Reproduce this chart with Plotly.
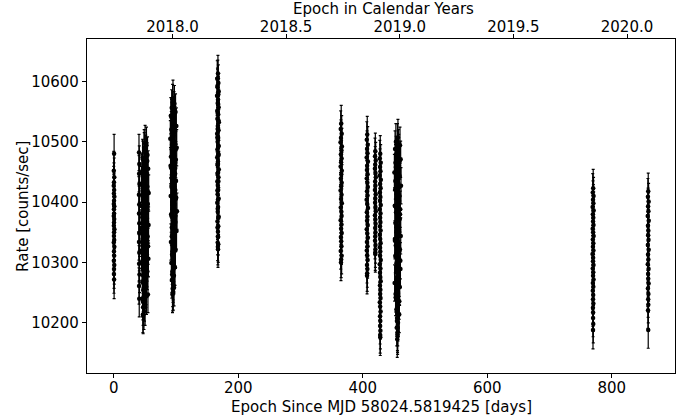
import datetime
import plotly.graph_objects as go

# Light-curve rates, grouped by observing window (days since reference MJD)
MJD_REF = 58024.5819425

a_day = [0.62, 0.15, 0.88, 0.41, 0.05, 0.73, 0.29, 1.02, 0.55, 0.18, 0.94, 0.36, 0.67, 0.09, 0.81,
         0.47, 0.24, 1.10, 0.58, 0.33, 0.76, 0.12, 0.99, 0.44, 0.69, 0.21, 0.85, 0.52, 0.38, 0.64]
a_rate = [10480, 10452, 10441, 10433, 10427, 10420, 10414, 10409, 10402, 10397, 10393, 10388, 10381,
          10377, 10372, 10366, 10361, 10355, 10350, 10344, 10337, 10333, 10326, 10318, 10311, 10303,
          10296, 10289, 10281, 10272]

b_day = [40.6, 41.1, 40.8, 41.3, 40.5, 41.0, 40.7, 41.2, 40.9, 40.6, 41.1, 40.8, 41.4, 40.7, 41.0,
         50.4, 52.6, 49.0, 54.3, 46.8, 51.9, 49.5, 55.4, 45.3, 53.2, 48.1, 50.9, 44.5, 53.0, 48.4,
         56.2, 46.2, 51.3, 50.0, 54.8, 45.1, 53.7, 47.4, 50.2, 45.9, 52.3, 48.7, 56.0, 44.0, 51.6,
         49.2, 54.5, 46.5, 53.4, 47.8, 50.7, 44.8, 52.8, 48.2, 55.7, 45.6, 52.1, 49.8, 54.0, 47.1,
         51.1, 46.1, 52.2, 47.6, 55.0, 46.4, 49.4, 47.2, 48.6, 46.9, 47.3,
         48.9, 51.4, 46.3, 53.9, 49.7, 45.7, 52.5, 47.9, 50.5, 54.6, 46.6, 51.8, 49.1, 53.3, 47.5,
         50.8, 45.2, 52.0, 48.5, 55.2, 46.0, 50.1, 53.5, 47.0, 49.6, 51.3, 48.3, 52.7, 46.8, 50.4]
b_rate = [10482, 10463, 10447, 10430, 10412, 10396, 10381, 10365, 10349, 10334, 10316, 10298, 10280,
          10261, 10240,
          10497, 10494, 10485, 10478, 10471, 10466, 10460, 10455, 10449, 10444, 10440, 10434, 10429,
          10425, 10420, 10415, 10411, 10406, 10401, 10397, 10393, 10388, 10384, 10379, 10375, 10370,
          10366, 10362, 10357, 10352, 10348, 10343, 10339, 10334, 10330, 10325, 10320, 10316, 10311,
          10306, 10301, 10296, 10290, 10285, 10279, 10273, 10267, 10260, 10254, 10247, 10240, 10233,
          10226, 10219, 10214, 10212,
          10490, 10481, 10474, 10468, 10458, 10451, 10443, 10437, 10427, 10418, 10409, 10399, 10391,
          10382, 10372, 10364, 10354, 10345, 10336, 10327, 10318, 10308, 10299, 10288, 10277, 10265,
          10255, 10244, 10235, 10226]

c_day = [95.2, 97.5, 93.1, 99.3, 91.7, 96.4, 94.0, 100.6, 92.5, 98.1, 95.8, 90.9, 97.0, 93.6, 101.2,
         94.7, 96.9, 92.1, 99.8, 95.4, 91.3, 98.6, 94.3, 97.8, 93.0, 100.1, 96.1, 92.8, 98.9, 95.0,
         91.5, 99.5, 93.9, 97.2, 94.5, 101.6, 92.3, 96.6, 95.6, 98.3, 93.3, 100.9, 94.9, 97.6, 91.9,
         96.0, 99.1, 93.7, 95.9, 92.6, 98.0, 94.2, 96.7, 93.4, 95.3, 94.8, 95.7, 94.4,
         94.6, 96.8, 92.9, 98.4, 95.1, 93.8, 97.3, 99.7, 94.1, 96.2, 92.0, 98.7, 95.5, 93.5, 97.9,
         100.4, 94.9, 96.5, 92.7, 99.0, 95.8, 93.2, 97.1, 94.3, 96.0, 98.2, 93.9, 95.3, 96.9, 94.7]
c_rate = [10572, 10563, 10556, 10549, 10543, 10537, 10531, 10526, 10520, 10515, 10510, 10505, 10500,
          10495, 10490, 10485, 10480, 10475, 10470, 10465, 10460, 10455, 10450, 10445, 10440, 10435,
          10430, 10425, 10420, 10415, 10410, 10405, 10400, 10395, 10390, 10385, 10380, 10375, 10370,
          10364, 10358, 10352, 10346, 10340, 10334, 10327, 10320, 10313, 10306, 10299, 10292, 10285,
          10278, 10271, 10264, 10257, 10251, 10247,
          10565, 10553, 10540, 10528, 10517, 10507, 10497, 10487, 10477, 10467, 10457, 10447, 10437,
          10427, 10417, 10407, 10397, 10387, 10377, 10367, 10355, 10343, 10331, 10318, 10305, 10292,
          10280, 10268, 10258, 10250]

d_day = [167.4, 166.3, 168.1, 166.8, 168.7, 166.0, 167.6, 167.1, 168.5, 166.4, 167.9, 166.6, 168.9,
         167.2, 168.3, 166.1, 167.7, 166.9, 168.6, 166.5, 168.0, 166.2, 167.5, 167.0, 168.8, 166.7,
         168.2, 166.4, 167.3, 167.8, 166.9, 168.5, 166.3, 167.6, 167.1, 168.4, 166.7, 167.9, 167.4,
         167.7, 167.0, 167.3, 167.5,
         167.2, 166.6, 168.0, 167.5, 166.9, 168.3, 167.0, 166.4, 167.8, 168.5, 166.8, 167.4, 168.1,
         166.5, 167.6, 167.1, 168.2, 166.7, 167.3, 167.9]
d_rate = [10613, 10604, 10597, 10590, 10583, 10576, 10570, 10564, 10557, 10551, 10545, 10538, 10532,
          10526, 10519, 10513, 10506, 10500, 10493, 10487, 10480, 10474, 10467, 10461, 10454, 10447,
          10441, 10434, 10427, 10420, 10413, 10406, 10399, 10392, 10384, 10376, 10368, 10360, 10351,
          10342, 10333, 10326, 10322,
          10605, 10592, 10578, 10563, 10549, 10535, 10521, 10507, 10493, 10478, 10463, 10449, 10434,
          10419, 10404, 10389, 10374, 10358, 10343, 10330]

e_day = [365.4, 364.6, 366.2, 365.0, 364.3, 366.5, 365.7, 364.9, 366.0, 365.2, 364.5, 366.3, 365.5,
         364.8, 366.1, 365.3, 364.4, 365.9, 365.1, 366.4, 364.7, 365.6, 366.0, 364.5, 365.8, 365.2,
         366.2, 364.9, 365.4, 365.7, 364.6, 366.1, 365.3, 365.0]
e_rate = [10530, 10521, 10513, 10506, 10499, 10492, 10486, 10479, 10472, 10466, 10459, 10452, 10446,
          10439, 10432, 10426, 10419, 10412, 10405, 10398, 10391, 10384, 10377, 10370, 10363, 10356,
          10349, 10342, 10335, 10327, 10319, 10311, 10305, 10300]

f_day = [407.2, 406.5, 408.0, 406.9, 407.6, 406.3, 408.3, 407.0, 406.7, 407.8, 406.4, 407.4, 408.1,
         406.8, 407.7, 406.2, 407.1, 408.4, 406.6, 407.5, 406.9, 407.9, 406.4, 407.3, 408.2, 406.7,
         407.6, 406.5, 407.0, 407.8, 406.8, 407.4, 407.1, 406.9]
f_rate = [10512, 10503, 10495, 10488, 10481, 10474, 10467, 10460, 10453, 10446, 10439, 10432, 10425,
          10418, 10411, 10404, 10397, 10390, 10383, 10376, 10369, 10362, 10355, 10348, 10341, 10334,
          10327, 10320, 10312, 10304, 10296, 10289, 10282, 10278]

g_day = [420.2, 419.7, 420.8, 420.0, 419.5, 420.5, 420.9, 419.9, 420.3, 419.6, 420.7, 420.1, 419.8,
         420.4, 420.9, 419.6, 420.2, 420.6, 419.9, 420.4, 420.0, 419.7, 420.5, 420.3, 420.1, 420.2]
g_rate = [10484, 10476, 10469, 10462, 10455, 10448, 10441, 10434, 10427, 10420, 10413, 10406, 10399,
          10392, 10385, 10378, 10371, 10364, 10357, 10350, 10343, 10336, 10329, 10322, 10317, 10314]

h_day = [428.1, 427.4, 428.8, 427.8, 428.4, 427.2, 429.0, 427.9, 428.6, 427.5, 428.2, 427.7, 428.9,
         427.3, 428.5, 427.9, 428.3, 427.6, 428.7, 427.4, 428.0, 428.6, 427.5, 428.2, 427.8, 428.9,
         427.3, 428.4, 427.7, 428.1, 428.8, 427.6, 428.3, 427.9, 428.5, 427.4, 428.0, 428.7, 427.8,
         428.2, 427.9, 428.3, 428.0, 428.1]
h_rate = [10480, 10472, 10465, 10458, 10451, 10444, 10437, 10430, 10423, 10416, 10409, 10402, 10395,
          10388, 10381, 10374, 10367, 10360, 10353, 10346, 10339, 10332, 10325, 10318, 10311, 10304,
          10297, 10290, 10283, 10276, 10269, 10262, 10255, 10248, 10241, 10234, 10227, 10219, 10211,
          10203, 10195, 10187, 10180, 10176]

i_day = [456.5, 453.2, 459.8, 451.9, 457.7, 454.3, 460.9, 452.6, 458.2, 455.4, 450.8, 459.1, 453.9,
         456.9, 461.4, 452.1, 455.0, 458.8, 454.7, 457.3, 451.4, 460.2, 453.5, 456.1, 459.4, 452.9,
         455.8, 458.0, 454.1, 461.0, 451.6, 457.0, 453.0, 459.6, 455.2, 452.4, 458.5, 454.5, 456.7,
         460.5, 453.7, 457.9, 455.6, 451.2, 459.0, 454.9, 456.3, 452.8, 458.7, 455.9, 454.0, 457.5,
         455.1, 456.6, 454.6, 455.7, 456.0, 455.4,
         455.8, 457.2, 453.6, 459.3, 454.8, 456.4, 452.3, 458.4, 455.0, 457.6, 453.3, 459.9, 456.1,
         454.2, 458.1, 451.7, 456.8, 453.9, 460.4, 455.3, 457.8, 454.4, 459.2, 452.7, 456.9, 455.5,
         458.6, 454.9, 456.2, 455.9]
i_rate = [10507, 10500, 10494, 10488, 10482, 10476, 10471, 10465, 10460, 10454, 10449, 10443, 10438,
          10432, 10427, 10421, 10416, 10410, 10405, 10399, 10394, 10388, 10383, 10377, 10372, 10366,
          10361, 10355, 10350, 10344, 10339, 10333, 10328, 10322, 10317, 10311, 10306, 10300, 10295,
          10289, 10284, 10278, 10272, 10266, 10260, 10254, 10248, 10242, 10236, 10229, 10222, 10215,
          10208, 10200, 10192, 10184, 10178, 10173,
          10500, 10490, 10479, 10468, 10457, 10446, 10435, 10424, 10413, 10402, 10391, 10380, 10369,
          10358, 10347, 10336, 10325, 10314, 10303, 10292, 10281, 10270, 10259, 10248, 10237, 10226,
          10214, 10203, 10192, 10181]

j_day = [770.1, 769.4, 770.7, 769.8, 770.4, 769.2, 770.9, 769.6, 770.2, 769.9, 770.6, 769.3, 770.0,
         770.8, 769.5, 770.3, 769.7, 770.5, 769.1, 770.0, 769.8, 770.6, 769.4, 770.2, 769.9, 770.7,
         769.6, 770.3, 769.5, 770.1, 769.8, 770.4, 769.7, 770.0, 769.9, 770.2, 769.8]
j_rate = [10423, 10416, 10410, 10404, 10398, 10392, 10386, 10380, 10374, 10368, 10362, 10356, 10350,
          10344, 10338, 10332, 10326, 10320, 10314, 10308, 10302, 10296, 10290, 10284, 10278, 10272,
          10266, 10260, 10253, 10246, 10239, 10232, 10225, 10217, 10208, 10198, 10188]

k_day = [858.5, 858.0, 859.1, 858.3, 858.8, 857.7, 859.3, 858.1, 858.6, 858.4, 858.9, 857.9, 859.2,
         858.2, 858.7, 857.8, 859.0, 858.3, 858.5, 859.1, 858.0, 858.8, 858.4, 858.6, 858.2, 858.5]
k_rate = [10418, 10409, 10401, 10393, 10385, 10377, 10369, 10361, 10353, 10345, 10337, 10329, 10321,
          10313, 10305, 10297, 10289, 10281, 10273, 10265, 10257, 10248, 10239, 10230, 10221, 10188]

# typical 1-sigma uncertainty of each window [counts/sec]
window_err = [32, 30, 30, 30, 30, 30, 30, 30, 30, 31, 30]

windows = [(a_day, a_rate), (b_day, b_rate), (c_day, c_rate), (d_day, d_rate), (e_day, e_rate),
           (f_day, f_rate), (g_day, g_rate), (h_day, h_rate), (i_day, i_rate), (j_day, j_rate),
           (k_day, k_rate)]

days, rates, errs = [], [], []
for (t, r), e in zip(windows, window_err):
    n = min(len(t), len(r))
    days += t[:n]
    rates += r[:n]
    errs += [e] * n

# calendar-year ticks for the top axis, converted to days since MJD_REF
year_ticks = [2018.0, 2018.5, 2019.0, 2019.5, 2020.0]
MJD_ZERO = datetime.datetime(1858, 11, 17)


def year_to_day(y):
    yr = int(y)
    start = datetime.datetime(yr, 1, 1)
    end = datetime.datetime(yr + 1, 1, 1)
    mjd = (start - MJD_ZERO).days + (y - yr) * (end - start).days
    return mjd - MJD_REF


year_days = [year_to_day(y) for y in year_ticks]
year_text = [f"{y:.1f}" for y in year_ticks]

x_range = [-42.9, 901.5]
y_range = [10117, 10670]
FONT = "DejaVu Sans"
FS = 15

fig = go.Figure()
fig.add_trace(go.Scatter(
    x=days, y=rates, mode="markers",
    marker=dict(color="black", size=4.5, line=dict(width=0)),
    error_y=dict(type="data", array=errs, visible=True, color="black", thickness=1.2, width=1.5),
    showlegend=False, hoverinfo="x+y",
))
# invisible companion trace so the calendar axis is drawn
fig.add_trace(go.Scatter(x=x_range, y=[10400, 10400], xaxis="x2", mode="markers",
                         marker=dict(opacity=0), showlegend=False, hoverinfo="skip"))

axis_common = dict(showgrid=False, zeroline=False, showline=True, linecolor="black", linewidth=1.3,
                   ticks="outside", ticklen=4, tickwidth=1, tickcolor="black", automargin=False,
                   tickfont=dict(family=FONT, size=FS, color="black"))

fig.update_layout(
    width=691, height=416,
    margin=dict(l=87, r=16, t=39, b=43),
    plot_bgcolor="white", paper_bgcolor="white",
    font=dict(family=FONT, size=FS, color="black"),
    xaxis=dict(range=x_range, tickvals=[0, 200, 400, 600, 800], ticklabelstandoff=-3,
               **axis_common),
    xaxis2=dict(range=x_range, overlaying="x", side="top", anchor="y",
                tickvals=year_days, ticktext=year_text, ticklabelstandoff=-4, **axis_common),
    yaxis=dict(range=y_range, tickvals=[10200, 10300, 10400, 10500, 10600], tickformat="d",
               mirror=True, **axis_common),
    annotations=[
        dict(text="Epoch Since MJD 58024.5819425 [days]", xref="paper", yref="paper",
             x=0.5, y=-0.1018, xanchor="center", yanchor="middle", showarrow=False,
             font=dict(family=FONT, size=FS)),
        dict(text="Epoch in Calendar Years", xref="paper", yref="paper",
             x=0.504, y=1.0913, xanchor="center", yanchor="middle", showarrow=False,
             font=dict(family=FONT, size=FS)),
        dict(text="Rate [counts/sec]", xref="paper", yref="paper", textangle=-90,
             x=-0.109, y=0.5, xanchor="center", yanchor="middle", showarrow=False,
             font=dict(family=FONT, size=FS)),
    ],
)

fig.write_html("out.html")
